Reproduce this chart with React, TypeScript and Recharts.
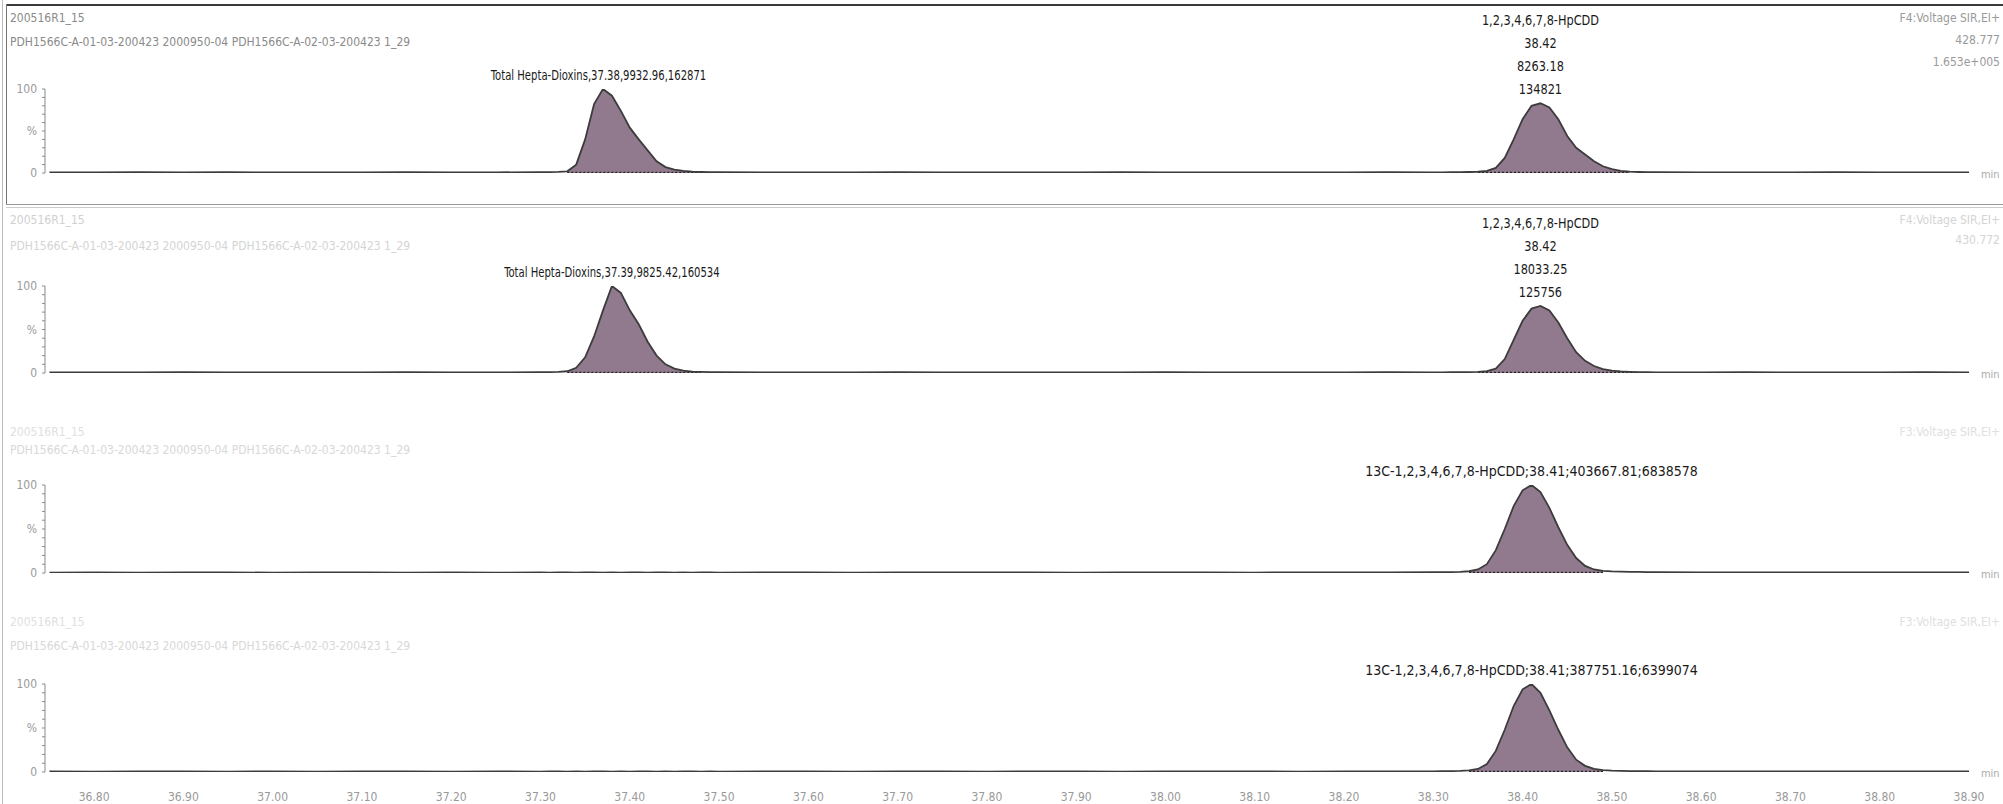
import React from 'react';
import { ComposedChart, Area, Line, XAxis, YAxis, ReferenceDot } from 'recharts';

// retention time (min), dense around the peaks
const times = [
  36.75, 36.8, 36.85, 36.9, 36.95, 37.0, 37.05, 37.1, 37.15, 37.2, 37.25,
  37.3, 37.31, 37.32, 37.33, 37.34, 37.35, 37.36, 37.37, 37.38, 37.39, 37.4,
  37.41, 37.42, 37.43, 37.44, 37.45, 37.46, 37.47, 37.48, 37.49, 37.5,
  37.55, 37.6, 37.65, 37.7, 37.75, 37.8, 37.85, 37.9, 37.95, 38.0, 38.05,
  38.1, 38.15, 38.2, 38.25, 38.3,
  38.31, 38.32, 38.33, 38.34, 38.35, 38.36, 38.37, 38.38, 38.39, 38.4, 38.41,
  38.42, 38.43, 38.44, 38.45, 38.46, 38.47, 38.48, 38.49, 38.5, 38.51, 38.52,
  38.53, 38.54, 38.55,
  38.6, 38.65, 38.7, 38.75, 38.8, 38.85, 38.9
];

const xTicks = [
  36.8, 36.9, 37.0, 37.1, 37.2, 37.3, 37.4, 37.5, 37.6, 37.7, 37.8,
  37.9, 38.0, 38.1, 38.2, 38.3, 38.4, 38.5, 38.6, 38.7, 38.8, 38.9
];
const yTicks = [0, 10, 20, 30, 40, 50, 60, 70, 80, 90, 100];

// relative intensity (%) per trace
const trace1 = [
  0.8, 0.6, 0.9, 0.7, 1.0, 0.6, 0.8, 0.7, 0.9, 0.6, 0.8,
  1.0, 1.1, 1.3, 2, 10, 40, 82, 100, 92, 74, 54,
  40, 27, 14, 7, 4, 2.5, 1.6, 1.2, 1.0, 0.9,
  0.7, 0.8, 0.6, 0.9, 0.7, 0.6, 0.8, 0.7, 0.9, 0.6, 0.8,
  0.7, 0.6, 0.8, 0.9, 0.7,
  0.8, 0.9, 1.0, 1.2, 1.5, 2.5, 6, 18, 40, 64, 80,
  83, 78, 64, 44, 30, 22, 14, 8, 4.5, 2.5, 1.6,
  1.2, 1.0, 0.9,
  0.8, 0.6, 0.7, 0.9, 0.6, 0.7, 0.8
];
const trace2 = [
  0.6, 0.8, 0.7, 0.9, 0.6, 0.8, 0.7, 0.6, 0.9, 0.7, 0.8,
  0.9, 1.1, 1.4, 2, 6, 18, 42, 72, 100, 92, 72,
  56, 36, 20, 10, 5, 2.8, 1.6, 1.2, 1.0, 0.9,
  0.8, 0.6, 0.7, 0.9, 0.8, 0.6, 0.7, 0.8, 0.6, 0.9, 0.7,
  0.8, 0.6, 0.7, 0.9, 0.8,
  0.7, 0.9, 1.0, 1.1, 1.4, 2.2, 5, 16, 38, 60, 74,
  77, 72, 58, 40, 24, 14, 8, 4.5, 2.8, 1.8, 1.3,
  1.0, 0.9, 0.8,
  0.7, 0.9, 0.6, 0.8, 0.7, 0.9, 0.6
];
const trace3 = [
  0.5, 0.6, 0.5, 0.7, 0.6, 0.5, 0.6, 0.7, 0.5, 0.6, 0.5,
  0.6, 0.5, 0.7, 0.6, 0.5, 0.6, 0.7, 0.5, 0.6, 0.5, 0.7,
  0.6, 0.5, 0.6, 0.7, 0.5, 0.6, 0.5, 0.7, 0.6, 0.5,
  0.6, 0.7, 0.5, 0.6, 0.8, 0.6, 0.7, 0.5, 0.6, 0.7, 0.6,
  0.5, 0.7, 0.6, 0.8, 0.9,
  1.0, 1.1, 1.3, 2.0, 4, 10, 26, 50, 76, 94, 100,
  92, 74, 52, 32, 17, 8, 4, 2.4, 1.8, 1.5, 1.3,
  1.2, 1.0, 0.9,
  0.8, 0.7, 0.8, 0.6, 0.7, 0.6, 0.7
];
const trace4 = [
  0.6, 0.5, 0.6, 0.7, 0.5, 0.6, 0.5, 0.7, 0.6, 0.5, 0.6,
  0.5, 0.6, 0.7, 0.5, 0.6, 0.5, 0.6, 0.7, 0.5, 0.6, 0.5,
  0.6, 0.7, 0.5, 0.6, 0.5, 0.6, 0.7, 0.5, 0.6, 0.5,
  0.7, 0.6, 0.5, 0.7, 0.6, 0.5, 0.6, 0.7, 0.5, 0.6, 0.7,
  0.6, 0.5, 0.6, 0.7, 0.8,
  0.9, 1.0, 1.2, 1.8, 3.5, 9, 24, 48, 75, 94, 100,
  90, 70, 48, 28, 14, 7, 3.5, 2.2, 1.6, 1.3, 1.1,
  1.0, 0.9, 0.8,
  0.7, 0.6, 0.8, 0.7, 0.6, 0.7, 0.6
];

// integrated peak windows [start, end]
const peaks1 = [[37.33, 37.48], [38.35, 38.52]];
const peaks2 = [[37.33, 37.48], [38.35, 38.53]];
const peaks3 = [[38.34, 38.49]];
const peaks4 = [[38.34, 38.49]];

// peak annotations: retention time, apex %, text lines
const notes1 = [
  { t: 37.365, y: 100, lines: ['Total Hepta-Dioxins,37.38,9932.96,162871'] },
  { t: 38.42, y: 83, lines: ['1,2,3,4,6,7,8-HpCDD', '38.42', '8263.18', '134821'] }
];
const notes2 = [
  { t: 37.38, y: 100, lines: ['Total Hepta-Dioxins,37.39,9825.42,160534'] },
  { t: 38.42, y: 77, lines: ['1,2,3,4,6,7,8-HpCDD', '38.42', '18033.25', '125756'] }
];
const notes3 = [
  { t: 38.41, y: 100, lines: ['13C-1,2,3,4,6,7,8-HpCDD;38.41;403667.81;6838578'] }
];
const notes4 = [
  { t: 38.41, y: 100, lines: ['13C-1,2,3,4,6,7,8-HpCDD;38.41;387751.16;6399074'] }
];

const FONT = "'Liberation Sans Narrow', 'DejaVu Sans Condensed', 'Liberation Sans', sans-serif";
const PLOT_TOP = 85;
const PLOT_BOTTOM = 12;
// horizontal squeeze applied to peak labels (the print uses a narrow face)
const TOTAL_SQUEEZE = 0.8;
const STACK_SQUEEZE = 0.9;
const ISO_SQUEEZE = 1.0;

const YTick = (props: any) => {
  const { x, y, payload } = props;
  const v = payload.value;
  const s = v === 100 ? '100' : v === 50 ? '%' : v === 0 ? '0' : '';
  return (
    <text x={x - 3} y={y} dy={4} textAnchor="end" fill="#9a9a9a" fontSize={12} fontFamily={FONT}>
      {s}
    </text>
  );
};

const noteLabel = (lines: string[], squeeze: number) => (props: any) => {
  const vb = props.viewBox || {};
  const cx = vb.x + (vb.width || 0) / 2;
  const cy = vb.y + (vb.height || 0) / 2;
  return (
    <g transform={`translate(${cx},0) scale(${squeeze},1) translate(${-cx},0)`}>
      <text textAnchor="middle" fill="#1a1a1a" fontSize={14} fontFamily={FONT}>
        {lines.map((l, i) => (
          <tspan key={i} x={cx} y={cy - 9 - (lines.length - 1 - i) * 23}>
            {l}
          </tspan>
        ))}
      </text>
    </g>
  );
};

const minLabel = (props: any) => {
  const vb = props.viewBox || {};
  return (
    <text x={vb.x + 12} y={vb.y + 5} fill="#aaa" fontSize={11} fontFamily={FONT}>
      min
    </text>
  );
};

const squeezeFor = (lines: string[]) =>
  lines.length > 1 ? STACK_SQUEEZE : lines[0].startsWith('Total') ? TOTAL_SQUEEZE : ISO_SQUEEZE;

interface PanelProps {
  values: number[];
  peaks: number[][];
  notes: { t: number; y: number; lines: string[] }[];
  top: number;
  plotH: number;
  showAxis?: boolean;
}

const Panel = ({ values, peaks, notes, top, plotH, showAxis }: PanelProps) => {
  const rows = times.map((t, i) => {
    const inPeak = peaks.some(([a, b]) => t >= a - 1e-9 && t <= b + 1e-9);
    return { t, v: values[i], fill: inPeak ? values[i] : null, base: inPeak ? 0 : null };
  });
  const axisH = showAxis ? 30 : 0;
  return (
    <div style={{ position: 'absolute', left: 0, top: top - PLOT_TOP }}>
      <ComposedChart
        width={2003}
        height={PLOT_TOP + plotH + axisH + PLOT_BOTTOM}
        data={rows}
        margin={{ top: PLOT_TOP, right: 34, bottom: PLOT_BOTTOM, left: 0 }}
      >
        <XAxis
          type="number"
          dataKey="t"
          domain={[36.745, 38.9]}
          allowDataOverflow
          ticks={xTicks}
          interval={0}
          hide={!showAxis}
          height={30}
          axisLine={false}
          tickLine={false}
          tickMargin={14}
          tickFormatter={(v: number) => v.toFixed(2)}
          tick={{ fill: '#999', fontSize: 12, fontFamily: FONT }}
        />
        <YAxis
          type="number"
          domain={[0, 100]}
          allowDataOverflow
          ticks={yTicks}
          interval={0}
          width={45}
          tickSize={3}
          axisLine={{ stroke: '#8a8a8a' }}
          tickLine={{ stroke: '#8a8a8a' }}
          tick={<YTick />}
        />
        <Area
          type="linear"
          dataKey="fill"
          baseValue={0}
          fill="#927a8e"
          fillOpacity={1}
          stroke="none"
          connectNulls={false}
          isAnimationActive={false}
        />
        <Line
          type="linear"
          dataKey="base"
          stroke="#222"
          strokeWidth={2.5}
          strokeDasharray="2 2"
          dot={false}
          activeDot={false}
          connectNulls={false}
          isAnimationActive={false}
        />
        <Line
          type="linear"
          dataKey="v"
          stroke="#3c3c3c"
          strokeWidth={1.8}
          dot={false}
          activeDot={false}
          isAnimationActive={false}
        />
        {notes.map((n, i) => (
          <ReferenceDot
            key={i}
            x={n.t}
            y={n.y}
            r={0.1}
            fill="none"
            stroke="none"
            ifOverflow="visible"
            label={{ content: noteLabel(n.lines, squeezeFor(n.lines)) }}
          />
        ))}
        <ReferenceDot x={38.9} y={0} r={0.1} fill="none" stroke="none" ifOverflow="visible" label={{ content: minLabel }} />
      </ComposedChart>
    </div>
  );
};

const Txt = ({ x, y, s, c, right }: { x: number; y: number; s: string; c: string; right?: boolean }) => (
  <div
    style={{
      position: 'absolute',
      top: y - 7,
      left: right ? undefined : x,
      right: right ? 2003 - x : undefined,
      color: c,
      fontSize: 12,
      lineHeight: '14px',
      fontFamily: FONT,
      whiteSpace: 'nowrap'
    }}
  >
    {s}
  </div>
);

const sampleId = '200516R1_15';
const sampleDesc = 'PDH1566C-A-01-03-200423 2000950-04 PDH1566C-A-02-03-200423 1_29';

export default function App() {
  return (
    <div style={{ position: 'absolute', left: 0, top: 0, width: 2003, height: 804, background: '#fff', overflow: 'hidden' }}>
      {/* frames */}
      <div style={{ position: 'absolute', left: 6, top: 4, width: 1997, height: 2, background: '#3a3a3a' }} />
      <div style={{ position: 'absolute', left: 6, top: 4, width: 1, height: 200, background: '#777' }} />
      <div style={{ position: 'absolute', left: 2, top: 0, width: 1, height: 804, background: '#bbb' }} />
      <div style={{ position: 'absolute', left: 6, top: 204, width: 1997, height: 1, background: '#999' }} />
      <div style={{ position: 'absolute', left: 6, top: 207, width: 1997, height: 1, background: '#ccc' }} />

      {/* header texts */}
      <Txt x={10} y={18} s={sampleId} c="#8a8a8a" />
      <Txt x={10} y={42} s={sampleDesc} c="#8a8a8a" />
      <Txt x={2000} y={18} s="F4:Voltage SIR,EI+" c="#9a9a9a" right />
      <Txt x={2000} y={40} s="428.777" c="#9a9a9a" right />
      <Txt x={2000} y={62} s="1.653e+005" c="#9a9a9a" right />

      <Txt x={10} y={220} s={sampleId} c="#d0d0d0" />
      <Txt x={10} y={246} s={sampleDesc} c="#d4d4d4" />
      <Txt x={2000} y={220} s="F4:Voltage SIR,EI+" c="#d4d4d4" right />
      <Txt x={2000} y={240} s="430.772" c="#d4d4d4" right />

      <Txt x={10} y={432} s={sampleId} c="#e0e0e0" />
      <Txt x={10} y={450} s={sampleDesc} c="#d8d8d8" />
      <Txt x={2000} y={432} s="F3:Voltage SIR,EI+" c="#e0e0e0" right />

      <Txt x={10} y={622} s={sampleId} c="#e0e0e0" />
      <Txt x={10} y={646} s={sampleDesc} c="#d8d8d8" />
      <Txt x={2000} y={622} s="F3:Voltage SIR,EI+" c="#e0e0e0" right />

      <Panel values={trace1} peaks={peaks1} notes={notes1} top={89} plotH={84} />
      <Panel values={trace2} peaks={peaks2} notes={notes2} top={286} plotH={87} />
      <Panel values={trace3} peaks={peaks3} notes={notes3} top={485} plotH={88} />
      <Panel values={trace4} peaks={peaks4} notes={notes4} top={684} plotH={88} showAxis />
    </div>
  );
}
